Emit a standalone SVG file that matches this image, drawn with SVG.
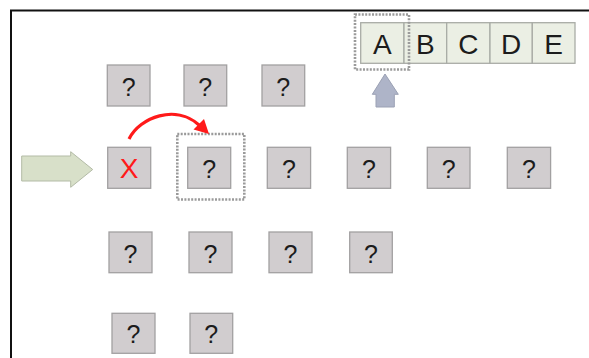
<svg xmlns="http://www.w3.org/2000/svg" width="589" height="358" viewBox="0 0 589 358">
<style>
.q{fill:#d1cdcf;stroke:#a2a0a1;stroke-width:1.3}
.qt{font-family:"Liberation Sans",Arial,sans-serif;font-size:25px;fill:#1c1c1c;text-anchor:middle}
.c{fill:#ebefe4;stroke:#a9aca6;stroke-width:1.3}
.ct{font-family:"Liberation Sans",Arial,sans-serif;font-size:28px;fill:#1c1c1c;text-anchor:middle}
.dash{fill:none;stroke:#9a9a9a;stroke-width:2.6;stroke-dasharray:2 1.4}
</style>
<rect width="589" height="358" fill="#ffffff"/>
<path d="M11,358 V10.5 H589" fill="none" stroke="#111" stroke-width="2"/>

<g id="cells">
<g id="cellA"><rect class="c" x="360.7" y="22.7" width="43.3" height="40.6"/><text class="ct" x="382.4" y="54">A</text></g>
<g id="cellB"><rect class="c" x="404" y="22.7" width="42.7" height="40.6"/><text class="ct" x="425.4" y="54">B</text></g>
<g id="cellC"><rect class="c" x="446.7" y="22.7" width="43.3" height="40.6"/><text class="ct" x="468.4" y="54">C</text></g>
<g id="cellD"><rect class="c" x="490" y="22.7" width="42.3" height="40.6"/><text class="ct" x="511.2" y="54">D</text></g>
<g id="cellE"><rect class="c" x="532.3" y="22.7" width="42.7" height="40.6"/><text class="ct" x="553.7" y="54">E</text></g>
</g>
<rect class="dash" x="355" y="14.5" width="54" height="55"/>

<g id="pointer">
<polygon points="385,74 398.3,94.3 394.3,94.3 394.3,107 376,107 376,94.3 372.3,94.3" fill="#aeb4c8" stroke="#9ba1b4" stroke-width="1"/>
</g>

<g id="input-arrow">
<polygon points="21.7,156 70.7,156 70.7,151.7 92.7,169.5 70.7,187.3 70.7,181 21.7,181" fill="#d8e0c9" stroke="#b3bba6" stroke-width="1"/>
</g>

<g id="r1c1"><rect class="q" x="107.3" y="65" width="42.7" height="41"/><text class="qt" x="128.6" y="95.5">?</text></g>
<g id="r1c2"><rect class="q" x="184" y="65" width="42.7" height="41"/><text class="qt" x="205.3" y="95.5">?</text></g>
<g id="r1c3"><rect class="q" x="262" y="65" width="42.7" height="41"/><text class="qt" x="283.3" y="95.5">?</text></g>

<g id="r2c1"><rect class="q" x="107.7" y="147.3" width="43" height="41"/><text x="129.2" y="178.3" font-family="Liberation Sans,Arial,sans-serif" font-size="28" fill="#ff1a1a" text-anchor="middle">X</text></g>
<g id="r2c2"><rect class="q" x="187.7" y="147.3" width="43" height="41"/><text class="qt" x="209.2" y="177.8">?</text></g>
<g id="r2c3"><rect class="q" x="267.3" y="147.3" width="43.3" height="41"/><text class="qt" x="289" y="177.8">?</text></g>
<g id="r2c4"><rect class="q" x="347.3" y="147.3" width="43.3" height="41"/><text class="qt" x="369" y="177.8">?</text></g>
<g id="r2c5"><rect class="q" x="427.3" y="147.3" width="42.7" height="41"/><text class="qt" x="448.6" y="177.8">?</text></g>
<g id="r2c6"><rect class="q" x="507.3" y="147.3" width="43.3" height="41"/><text class="qt" x="529" y="177.8">?</text></g>
<rect class="dash" x="177.3" y="134" width="67" height="65.5"/>

<g id="r3c1"><rect class="q" x="109" y="232" width="43" height="40.7"/><text class="qt" x="130.5" y="262.5">?</text></g>
<g id="r3c2"><rect class="q" x="189" y="232" width="43" height="40.7"/><text class="qt" x="210.5" y="262.5">?</text></g>
<g id="r3c3"><rect class="q" x="269" y="232" width="43" height="40.7"/><text class="qt" x="290.5" y="262.5">?</text></g>
<g id="r3c4"><rect class="q" x="349.7" y="232" width="42.6" height="40.7"/><text class="qt" x="371" y="262.5">?</text></g>

<g id="r4c1"><rect class="q" x="112" y="313.3" width="43" height="40"/><text class="qt" x="133.5" y="343.3">?</text></g>
<g id="r4c2"><rect class="q" x="190" y="313.3" width="42.7" height="40"/><text class="qt" x="211.3" y="343.3">?</text></g>

<g id="connectors">
<path d="M129,139 C140,117 176,104 199,125" fill="none" stroke="#ff1a1a" stroke-width="3.2"/>
<polygon points="209,134 193.5,129.5 204,119" fill="#ff1a1a"/>
</g>
</svg>
